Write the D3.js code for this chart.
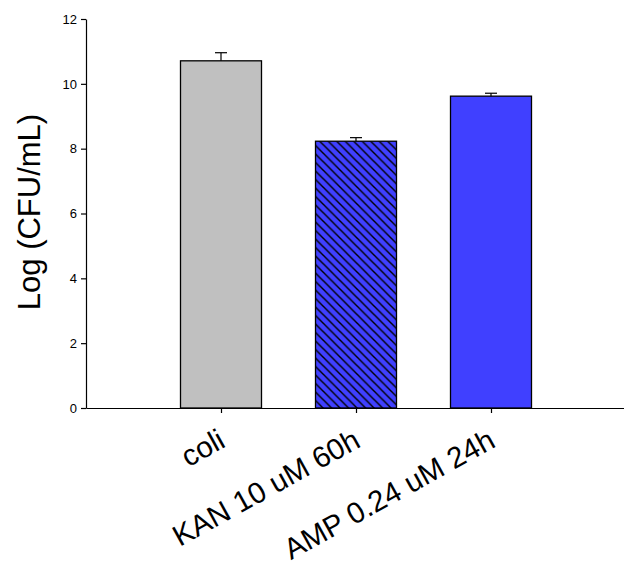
<!DOCTYPE html>
<html>
<head>
<meta charset="utf-8">
<script src="https://cdn.jsdelivr.net/npm/d3@7"></script>
<style>
  body { margin: 0; background: #fff; }
  svg { display: block; font-family: "Liberation Sans", Arial, sans-serif; }
</style>
</head>
<body>
<div id="chart"></div>
<script>
let categories = ["coli", "KAN 10 uM 60h", "AMP 0.24 uM 24h"]
let values = [10.71, 8.23, 9.62]
let errors = [0.25, 0.11, 0.09]
let fills = ["#c0c0c0", "#4040ff", "#4040ff"]
let hatched = [false, true, false]
let yTicks = [0, 2, 4, 6, 8, 10, 12]

let width = 624
let height = 564

let svg = d3.select("#chart")
            .append("svg")
            .attr("width", width)
            .attr("height", height)

// diagonal hatch for the KAN bar
let defs = svg.append("defs")
let pat = defs.append("pattern")
    .attr("id", "hatch")
    .attr("patternUnits", "userSpaceOnUse")
    .attr("width", 8.5)
    .attr("height", 8.5)
pat.append("rect").attr("width", 8.5).attr("height", 8.5).attr("fill", "#4040ff")
pat.append("path")
    .attr("d", "M-2,-2 L10.5,10.5 M-2,6.5 L2,10.5 M6.5,-2 L10.5,2")
    .attr("stroke", "#000")
    .attr("stroke-width", 1.4)

let xScale = d3.scaleLinear()
    .domain([-1, 3])
    .range([86, 626])

let yScale = d3.scaleLinear()
    .domain([0, 12])
    .range([408, 19])

let barW = 81

// bars
svg.selectAll("rect.bar")
    .data(values)
    .enter()
    .append("rect")
    .attr("class", "bar")
    .attr("x", (d, i) => xScale(i) - barW / 2)
    .attr("y", d => yScale(d))
    .attr("width", barW)
    .attr("height", d => yScale(0) - yScale(d))
    .attr("fill", (d, i) => hatched[i] ? "url(#hatch)" : fills[i])
    .attr("stroke", "#000")
    .attr("stroke-width", 1.3)

// error bars (upper only)
let eb = svg.selectAll("g.err")
    .data(values)
    .enter()
    .append("g")
    .attr("class", "err")
eb.append("line")
    .attr("x1", (d, i) => xScale(i))
    .attr("x2", (d, i) => xScale(i))
    .attr("y1", d => yScale(d))
    .attr("y2", (d, i) => yScale(d + errors[i]))
    .attr("stroke", "#000")
    .attr("stroke-width", 1.2)
eb.append("line")
    .attr("x1", (d, i) => xScale(i) - 6)
    .attr("x2", (d, i) => xScale(i) + 6)
    .attr("y1", (d, i) => yScale(d + errors[i]))
    .attr("y2", (d, i) => yScale(d + errors[i]))
    .attr("stroke", "#000")
    .attr("stroke-width", 1.2)

// axes
let yAxis = d3.axisLeft()
    .scale(yScale)
    .tickValues(yTicks)
    .tickSize(5)
    .tickSizeOuter(0)

let xAxis = d3.axisBottom()
    .scale(xScale)
    .tickValues([0, 1, 2])
    .tickFormat("")
    .tickSize(5)
    .tickSizeOuter(0)

let gy = svg.append("g")
    .attr("class", "axis")
    .attr("transform", "translate(86,0)")
    .call(yAxis)
gy.selectAll("text").attr("font-size", 13).attr("fill", "#000").attr("dx", "-1")
gy.selectAll("line, path").attr("stroke", "#000").attr("stroke-width", 1.2)

let gx = svg.append("g")
    .attr("class", "axis")
    .attr("transform", "translate(0,408)")
    .call(xAxis)
gx.selectAll("line, path").attr("stroke", "#000").attr("stroke-width", 1.2)

// rotated category labels
svg.selectAll("text.cat")
    .data(categories)
    .enter()
    .append("text")
    .attr("class", "cat")
    .attr("text-anchor", "end")
    .attr("font-size", 29.5)
    .attr("transform", (d, i) => "translate(" + (xScale(i) + 6) + ",446) rotate(-29)")
    .text(d => d)

// y axis title
svg.append("text")
    .attr("text-anchor", "middle")
    .attr("font-size", 31)
    .attr("transform", "translate(40,212) rotate(-90)")
    .text("Log (CFU/mL)")
</script>
</body>
</html>
